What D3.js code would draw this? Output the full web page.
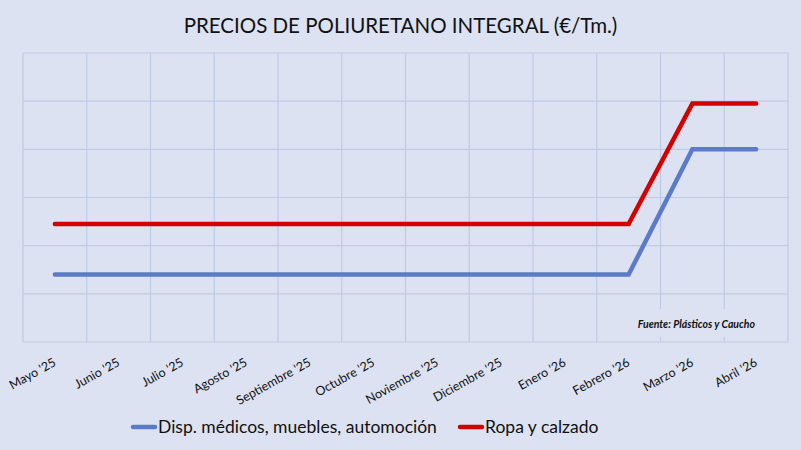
<!DOCTYPE html>
<html>
<head>
<meta charset="utf-8">
<script src="https://cdn.jsdelivr.net/npm/d3@7"></script>
<style>
  body { margin: 0; background: #dce2f2; }
  svg { display: block; font-family: Lato, "Open Sans", sans-serif; }
</style>
</head>
<body>
<svg width="801" height="450"></svg>
<script>
// data (no y labels, so relative units)
var months = ["Mayo '25", "Junio '25", "Julio '25", "Agosto '25", "Septiembre '25", "Octubre '25",
              "Noviembre '25", "Diciembre '25", "Enero '26", "Febrero '26", "Marzo '26", "Abril '26"];
var medicos = [140, 140, 140, 140, 140, 140, 140, 140, 140, 140, 400, 400];
var ropa    = [245, 245, 245, 245, 245, 245, 245, 245, 245, 245, 495, 495];
var yTicks  = [0, 100, 200, 300, 400, 500, 600];
var seriesNames = ["Disp. médicos, muebles, automoción", "Ropa y calzado"];
var seriesColors = ["#5b7bc8", "#d40000"];

var svg = d3.select("svg"),
    width = +svg.attr("width"),
    height = +svg.attr("height");

var plotL = 23, plotR = 788, plotT = 53, plotB = 342;

svg.append("rect").attr("width", width).attr("height", height).attr("fill", "#dce2f2");

var x = d3.scaleBand().domain(months).range([plotL, plotR]);
var y = d3.scaleLinear().domain([0, 600]).range([plotB, plotT]);

// horizontal grid
svg.append("g")
    .selectAll("line")
    .data(yTicks)
    .enter().append("line")
    .attr("x1", plotL).attr("x2", plotR)
    .attr("y1", function(d) { return y(d); })
    .attr("y2", function(d) { return y(d); })
    .attr("stroke", function(d) { return d === 0 ? "#c3c9da" : "#bfcbe6"; })
    .attr("stroke-width", 1.2);

// vertical grid on band edges
var edges = months.map(function(m) { return x(m); }).concat([plotR]);
svg.append("g")
    .selectAll("line")
    .data(edges)
    .enter().append("line")
    .attr("x1", function(d) { return d; }).attr("x2", function(d) { return d; })
    .attr("y1", plotT).attr("y2", plotB)
    .attr("stroke", function(d, i) { return i === 0 ? "#c3c9da" : "#bfcbe6"; })
    .attr("stroke-width", 1.2);

// x labels
var xAxis = svg.append("g")
    .attr("transform", "translate(0," + plotB + ")")
    .call(d3.axisBottom(x).tickSize(0).tickPadding(0));
xAxis.select(".domain").remove();
xAxis.selectAll("text")
    .attr("fill", "#111")
    .style("font-size", "12.5px")
    .style("font-family", "Lato, sans-serif")
    .attr("text-anchor", "end")
    .attr("dy", 0)
    .attr("transform", "translate(2,23) rotate(-29)");

// source box covering grid
svg.append("rect")
    .attr("x", 612).attr("y", 309).attr("width", 172).attr("height", 28)
    .attr("fill", "#dce2f2");
svg.append("text")
    .attr("x", 755).attr("y", 328)
    .attr("text-anchor", "end")
    .style("font-size", "10.5px")
    .style("font-weight", "bold")
    .style("font-style", "italic")
    .attr("fill", "#111")
    .text("Fuente: Plásticos y Caucho");

// lines
var line = d3.line()
    .x(function(d, i) { return x(months[i]) + x.bandwidth() / 2; })
    .y(function(d) { return y(d); });

[medicos, ropa].forEach(function(s, i) {
  svg.append("path")
      .datum(s)
      .attr("d", line)
      .attr("fill", "none")
      .attr("stroke", seriesColors[i])
      .attr("stroke-width", 4.5)
      .attr("stroke-linecap", "round")
      .attr("stroke-linejoin", "miter");
});

// title
svg.append("text")
    .attr("x", width / 2).attr("y", 33)
    .attr("text-anchor", "middle")
    .style("font-size", "20.5px")
    .attr("fill", "#111")
    .text("PRECIOS DE POLIURETANO INTEGRAL (€/Tm.)");

// legend
var legendX = [133, 460];
var legend = svg.append("g")
    .selectAll("g")
    .data(seriesNames)
    .enter().append("g")
    .attr("transform", function(d, i) { return "translate(" + legendX[i] + ",427)"; });
legend.append("line")
    .attr("x1", 0).attr("x2", 22)
    .attr("stroke", function(d, i) { return seriesColors[i]; })
    .attr("stroke-width", 4.5)
    .attr("stroke-linecap", "round");
legend.append("text")
    .attr("x", 25).attr("y", 6)
    .style("font-size", "17.5px")
    .attr("fill", "#111")
    .text(function(d) { return d; });
</script>
</body>
</html>
